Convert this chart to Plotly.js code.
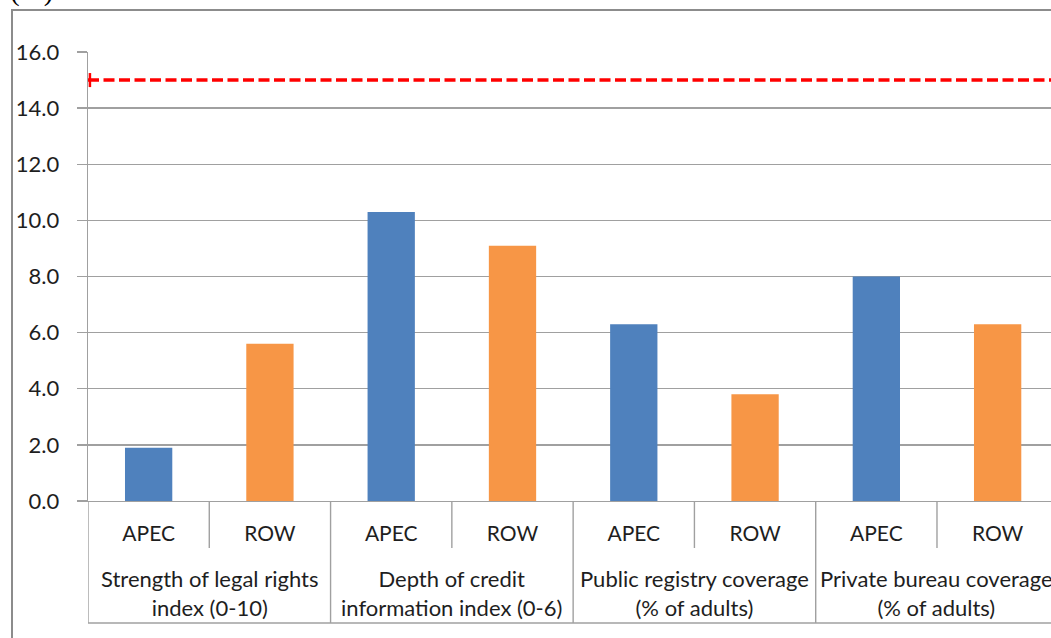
<!DOCTYPE html>
<html>
<head>
<meta charset="utf-8">
<script src="https://cdn.plot.ly/plotly-3.0.1.min.js"></script>
<style>
html,body{margin:0;padding:0;overflow:hidden;background:#fff;}
#chart{width:1051px;height:638px;}
</style>
</head>
<body>
<div id="chart"></div>
<script>
// ---- data ----
var groups = ['Strength of legal rights<br>index (0-10)', 'Depth of credit<br>information index (0-6)', 'Public registry coverage<br>(% of adults)', 'Private bureau coverage<br>(% of adults)'];
var subs = ['APEC', 'ROW'];
var apec = [1.9, 10.3, 6.3, 8.0];
var row = [5.6, 9.1, 3.8, 6.3];
var threshold = 15;
var yTicks = [0, 2, 4, 6, 8, 10, 12, 14, 16];
var unitLabel = '(%)';

// ---- build ----
var FONT = 'Lato, "Open Sans", sans-serif';
var TXT = '#1e1e1e';
var GRID = '#a0a0a0';
var nG = groups.length;
var xA = [], xR = [], tickvals = [], ticktext = [];
for (var g = 0; g < nG; g++) {
  xA.push(2 * g); xR.push(2 * g + 1);
  tickvals.push(2 * g, 2 * g + 1);
  ticktext.push(subs[0], subs[1]);
}
var traces = [
  {type: 'bar', name: subs[0], x: xA, y: apec, width: 0.39, marker: {color: '#4f81bd', line: {width: 0}}, hoverinfo: 'y'},
  {type: 'bar', name: subs[1], x: xR, y: row, width: 0.39, marker: {color: '#f79646', line: {width: 0}}, hoverinfo: 'y'}
];

var plotH = 449;
var subDiv = -47 / plotH, grpDiv = -122 / plotH;
var shapes = [];
// outer chart frame
shapes.push({type: 'rect', xref: 'paper', yref: 'paper', x0: (12 - 88) / 963, x1: 1.3, y0: -1, y1: (501 - 10) / plotH,
  line: {color: '#8c8c8c', width: 2}, fillcolor: 'rgba(0,0,0,0)', layer: 'below'});
for (var g = 0; g < nG; g++) {
  shapes.push({type: 'line', xref: 'x', yref: 'paper', x0: 2 * g + 0.5, x1: 2 * g + 0.5, y0: 0, y1: subDiv, line: {color: GRID, width: 1.4}});
  shapes.push({type: 'line', xref: 'x', yref: 'paper', x0: 2 * g - 0.5, x1: 2 * g - 0.5, y0: 0, y1: grpDiv, line: {color: GRID, width: 1.4}});
}
shapes.push({type: 'line', xref: 'paper', yref: 'paper', x0: 0, x1: 1, y0: grpDiv, y1: grpDiv, line: {color: GRID, width: 1.4}});
// threshold line with end cap
shapes.push({type: 'line', xref: 'paper', yref: 'y', x0: 0, x1: 1, y0: threshold, y1: threshold, line: {color: '#ff0000', width: 3.5, dash: '11px,4.5px'}});
shapes.push({type: 'line', xref: 'paper', yref: 'y', x0: 0.002, x1: 0.002, y0: threshold - 0.25, y1: threshold + 0.25, line: {color: '#ff0000', width: 2.5}});

var annotations = [];
for (var g = 0; g < nG; g++) {
  annotations.push({xref: 'x', yref: 'paper', x: 2 * g + 0.5, y: (501 - 593) / plotH, text: groups[g], showarrow: false,
    xanchor: 'center', yanchor: 'middle', align: 'center', font: {family: FONT, size: 22, color: TXT}});
}
annotations.push({xref: 'paper', yref: 'paper', x: (8 - 88) / 963, y: (501 - 9) / plotH, text: unitLabel, showarrow: false,
  xanchor: 'left', yanchor: 'bottom', font: {family: '"Liberation Serif", serif', size: 29, color: '#000'}});

var layout = {
  width: 1051, height: 638,
  margin: {l: 88, r: 0, t: 52, b: 137, pad: 0},
  paper_bgcolor: '#fff', plot_bgcolor: '#fff',
  showlegend: false,
  barmode: 'overlay',
  font: {family: FONT, size: 21, color: TXT},
  xaxis: {type: 'linear', range: [-0.5, 7.44], tickvals: tickvals, ticktext: ticktext, ticks: '', showgrid: false,
    zeroline: false, showline: true, linecolor: GRID, linewidth: 1.4, ticklabelstandoff: 13,
    tickfont: {family: FONT, size: 21, color: TXT}, fixedrange: true},
  yaxis: {range: [0, 16], tickvals: yTicks, tickformat: '.1f', showgrid: true, gridcolor: GRID, gridwidth: 1.4,
    zeroline: false, showline: true, linecolor: GRID, linewidth: 1.4, ticks: 'outside', ticklen: 10, tickcolor: GRID, tickwidth: 1.4,
    ticklabelstandoff: 13, tickfont: {family: FONT, size: 22, color: TXT}, fixedrange: true},
  shapes: shapes,
  annotations: annotations
};
Plotly.newPlot('chart', traces, layout, {displayModeBar: false, staticPlot: true});
</script>
</body>
</html>
